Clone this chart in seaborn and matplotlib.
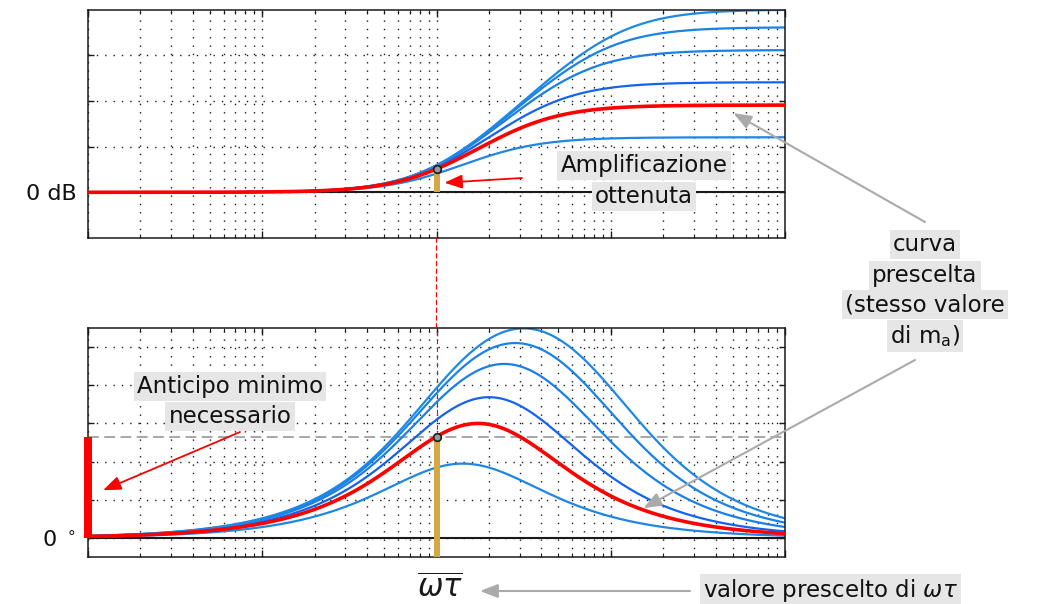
import numpy as np
import pandas as pd
import matplotlib
matplotlib.use("Agg")
import matplotlib.pyplot as plt
import seaborn as sns
from matplotlib.ticker import LogLocator, NullFormatter
from matplotlib.patches import ConnectionPatch

# ---------------- data ----------------
m_values = [2, 4, 6, 8, 10]          # blue lead-network curves (ratio m)
m_selected = 3                       # red "curva prescelta"
wt_selected = 1.0                    # chosen omega*tau
wt_range = [1e-2, 1e2]
mag_ylim = [-5, 20]                  # dB
mag_grid = [0, 5, 10, 15]
mag_labels = ["0 dB", "", "", ""]
phase_ylim = [-5, 55]                # degrees
phase_grid = [0, 10, 20, 30, 40, 50]
phase_labels = [r"0 $^\circ$", "", "", "", "", ""]
blue_colors = {2: "#1f86e4", 4: "#1463ef", 6: "#1a7fe6", 8: "#1a82e6", 10: "#1e88e5"}

# ---------------- curves of the lead network (1+jwt)/(1+jwt/m) ----------------
wt = np.logspace(np.log10(wt_range[0]), np.log10(wt_range[1]), 600)
rows = []
for m in m_values + [m_selected]:
    g = (1 + 1j * wt) / (1 + 1j * wt / m)
    rows.append(pd.DataFrame({"wt": wt, "m": m,
                              "mag": 20 * np.log10(np.abs(g)),
                              "phase": np.degrees(np.angle(g))}))
df = pd.concat(rows, ignore_index=True)
df_blue = df[df["m"] != m_selected]
df_red = df[df["m"] == m_selected]
g_sel = (1 + 1j * wt_selected) / (1 + 1j * wt_selected / m_selected)
mag_sel = 20 * np.log10(abs(g_sel))
phase_sel = np.degrees(np.angle(g_sel))

# ---------------- figure ----------------
sns.set_theme(style="white")
plt.rcParams["font.family"] = ["DejaVu Sans"]
plt.rcParams["mathtext.fontset"] = "dejavusans"

W, H = 1050, 604
fig = plt.figure(figsize=(W / 100, H / 100), dpi=100)
ax1 = fig.add_axes([88 / W, 1 - 238 / H, 697 / W, 228.5 / H])
ax2 = fig.add_axes([88 / W, 1 - 557 / H, 697 / W, 229 / H])

dots = (0, (1, 5))
for ax in (ax1, ax2):
    ax.set_xscale("log")
    ax.set_xlim(wt_range)
    ax.xaxis.set_major_locator(LogLocator(base=10))
    ax.xaxis.set_minor_locator(LogLocator(base=10, subs=np.arange(2, 10)))
    ax.xaxis.set_minor_formatter(NullFormatter())
    ax.set_axisbelow(True)
    ax.grid(True, which="both", axis="x", color="k", lw=1.0, ls=dots)
    ax.grid(True, which="major", axis="y", color="k", lw=1.0, ls=dots)
    ax.tick_params(which="both", direction="in", top=True, bottom=True,
                   left=True, right=True, labelbottom=False, color="k")
    ax.tick_params(which="major", length=5, width=1.0)
    ax.tick_params(which="minor", length=3, width=0.8)
    for sp in ax.spines.values():
        sp.set_color("k")
        sp.set_linewidth(1.1)

# magnitude
sns.lineplot(data=df_blue, x="wt", y="mag", hue="m", palette=blue_colors,
             legend=False, ax=ax1, lw=1.6, zorder=2)
sns.lineplot(data=df_red, x="wt", y="mag", color="#ff0000", legend=False,
             ax=ax1, lw=2.6, zorder=3)
ax1.axhline(0, color="k", lw=1.5, zorder=1.5)
ax1.set_ylim(mag_ylim)
ax1.set_yticks(mag_grid)
ax1.set_yticklabels(mag_labels, fontsize=16, color="#111")
ax1.tick_params(axis="y", which="major", pad=8, length=4)
ax1.vlines(wt_selected, 0, mag_sel, color="#d4a843", lw=4.3, zorder=4)
ax1.plot([wt_selected], [mag_sel], "o", ms=5.5, mfc="#9a9a9a", mec="k", mew=1.2, zorder=6)
ax1.set_xlabel("")
ax1.set_ylabel("")

# phase
sns.lineplot(data=df_blue, x="wt", y="phase", hue="m", palette=blue_colors,
             legend=False, ax=ax2, lw=1.6, zorder=2)
sns.lineplot(data=df_red, x="wt", y="phase", color="#ff0000", legend=False,
             ax=ax2, lw=2.6, zorder=3)
ax2.axhline(0, color="k", lw=1.5, zorder=1.5)
ax2.axhline(phase_sel, color="#a0a0a0", lw=1.3, ls=(0, (6, 3)), zorder=1.6)
ax2.set_ylim(phase_ylim)
ax2.set_yticks(phase_grid)
ax2.set_yticklabels(phase_labels, fontsize=16, color="#111")
ax2.tick_params(axis="y", which="major", pad=9, length=4)
ax2.plot([wt_selected, wt_selected], [phase_sel, phase_ylim[1]], color="red",
         lw=0.8, ls=(0, (4, 3)), zorder=1.4)
ax2.vlines(wt_selected, phase_ylim[0], phase_sel, color="#d4a843", lw=4.3, zorder=4)
ax2.plot([wt_selected], [phase_sel], "o", ms=5.5, mfc="#9a9a9a", mec="k", mew=1.2, zorder=6)
ax2.vlines(wt_range[0], 0, phase_sel, color="#ff0000", lw=5.8, zorder=7, clip_on=False)
ax2.set_xlabel("")
ax2.set_ylabel("")

con = ConnectionPatch(xyA=(wt_selected, mag_ylim[0]), coordsA=ax1.transData,
                      xyB=(wt_selected, phase_ylim[1]), coordsB=ax2.transData,
                      color="red", lw=0.8, ls=(0, (4, 3)))
fig.add_artist(con)

# ---------------- annotations ----------------
box = dict(boxstyle="square,pad=0.14", fc="#e6e6e6", ec="none")


def label(x, y, s, ha="center", size=16.5):
    fig.text(x / W, 1 - y / H, s, ha=ha, va="baseline", fontsize=size,
             color="#111111", bbox=box)


label(644, 172, "Amplificazione")
label(644, 203, "ottenuta")
label(230, 393, "Anticipo minimo")
label(230, 423, "necessario")
label(925, 251, "curva")
label(925, 282, "prescelta")
label(925, 311, "(stesso valore")
label(925, 343, r"di m$_{\mathsf{a}}$)")
label(703, 597, r"valore prescelto di $\omega\tau$", ha="left")
fig.text(440 / W, 1 - 598 / H, r"$\overline{\omega\tau}$", ha="center",
         va="baseline", fontsize=22, color="k")

red_arrow = dict(arrowstyle="-|>,head_length=0.9,head_width=0.35", color="#ff0000",
                 lw=1.3, mutation_scale=12, shrinkA=0, shrinkB=0)
gray_arrow = dict(arrowstyle="-|>,head_length=0.9,head_width=0.35", color="#aaaaaa",
                  lw=1.5, mutation_scale=12, shrinkA=0, shrinkB=0)

ax1.annotate("", xy=(1.11, 1.05), xycoords="data", xytext=(522, H - 178),
             textcoords="figure pixels", arrowprops=red_arrow, annotation_clip=False)
ax2.annotate("", xy=(0.0122, 12.5), xycoords="data", xytext=(240, H - 432),
             textcoords="figure pixels", arrowprops=red_arrow, annotation_clip=False)
ax1.annotate("", xy=(50.6, 8.66), xycoords="data", xytext=(925, H - 222),
             textcoords="figure pixels", arrowprops=gray_arrow, annotation_clip=False)
ax2.annotate("", xy=(15.4, 7.8), xycoords="data", xytext=(915, H - 360),
             textcoords="figure pixels", arrowprops=gray_arrow, annotation_clip=False)
ax2.annotate("", xy=(480, H - 591), xycoords="figure pixels", xytext=(690, H - 591),
             textcoords="figure pixels", arrowprops=gray_arrow, annotation_clip=False)

fig.savefig("out.png", dpi=100)
